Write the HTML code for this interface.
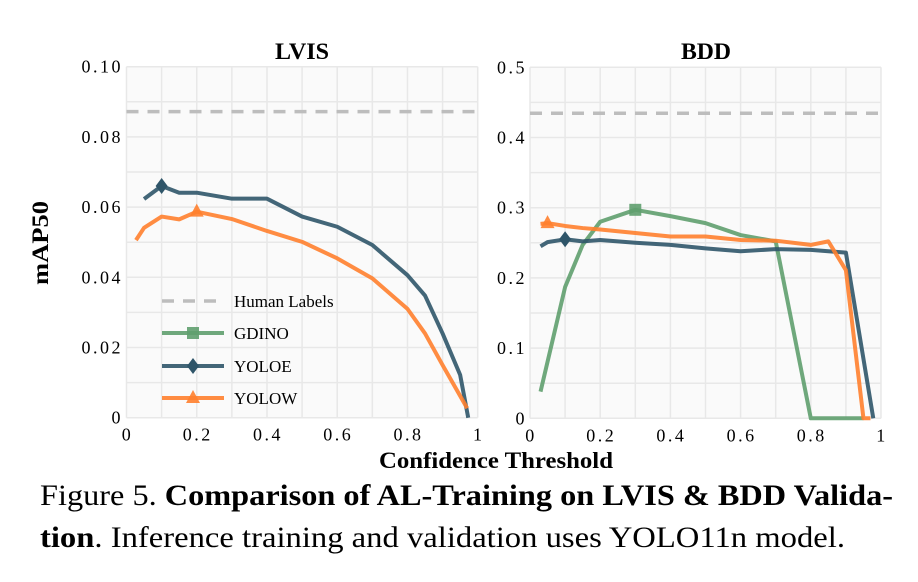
<!DOCTYPE html>
<html><head><meta charset="utf-8"><style>
body{margin:0;background:#fff;}
svg{display:block;font-family:"Liberation Serif",serif;}
</style></head><body>
<svg width="918" height="582" viewBox="0 0 918 582">
<g id="left"></g>
<g id="right"></g>
<text x="302" y="59" text-anchor="middle" font-size="23" font-weight="bold" textLength="54" lengthAdjust="spacingAndGlyphs">LVIS</text>
<text x="706" y="59" text-anchor="middle" font-size="23" font-weight="bold" textLength="50" lengthAdjust="spacingAndGlyphs">BDD</text>
<text transform="translate(48,243) rotate(-90)" text-anchor="middle" font-size="23" font-weight="bold" textLength="84" lengthAdjust="spacingAndGlyphs">mAP50</text>
<text x="379" y="468" font-size="23" font-weight="bold" textLength="234" lengthAdjust="spacingAndGlyphs">Confidence Threshold</text>
<text x="40" y="505" font-size="30" textLength="853" lengthAdjust="spacingAndGlyphs">Figure 5. <tspan font-weight="bold">Comparison of AL-Training on LVIS &amp; BDD Valida-</tspan></text>
<text x="40" y="547" font-size="30" textLength="805" lengthAdjust="spacingAndGlyphs"><tspan font-weight="bold">tion</tspan>. Inference training and validation uses YOLO11n model.</text>
<g id="legend"></g>
</svg>
<script>
const NS="http://www.w3.org/2000/svg";
const GREEN="#5f9e6e",DARK="#2f5569",ORANGE="#ff7f2e";
// LVIS data
const lvisHuman=0.0872;
const lvisYoloeX=[0.05,0.1,0.15,0.2,0.3,0.4,0.5,0.6,0.7,0.8,0.85,0.9,0.95,0.973];
const lvisYoloeY=[0.0623,0.066,0.0641,0.0641,0.0624,0.0624,0.0573,0.0544,0.0492,0.0406,0.0348,0.024,0.0122,0];
const lvisYolowX=[0.027,0.05,0.1,0.15,0.2,0.3,0.4,0.5,0.6,0.7,0.8,0.85,0.9,0.97];
const lvisYolowY=[0.0506,0.0541,0.0573,0.0565,0.0587,0.0566,0.0532,0.0501,0.0454,0.0397,0.031,0.024,0.015,0.0027];
const lvisYTicks=["0","0.02","0.04","0.06","0.08","0.10"];
// BDD data
const bddHuman=0.4345;
const bddGdinoX=[0.03,0.1,0.15,0.2,0.3,0.4,0.5,0.6,0.7,0.8,0.9,0.95];
const bddGdinoY=[0.038,0.187,0.247,0.28,0.297,0.288,0.278,0.261,0.252,0,0,0];
const bddYoloeX=[0.03,0.05,0.1,0.15,0.2,0.3,0.4,0.5,0.6,0.7,0.8,0.9,0.978];
const bddYoloeY=[0.245,0.251,0.255,0.252,0.254,0.25,0.247,0.242,0.238,0.241,0.24,0.236,0];
const bddYolowX=[0.03,0.05,0.1,0.15,0.2,0.3,0.4,0.5,0.6,0.7,0.8,0.85,0.9,0.95,0.97];
const bddYolowY=[0.277,0.278,0.274,0.271,0.269,0.264,0.259,0.259,0.254,0.253,0.247,0.252,0.211,0,0];
const bddYTicks=["0","0.1","0.2","0.3","0.4","0.5"];
const xTicks=["0","0.2","0.4","0.6","0.8","1"];

function el(t,a,p){const e=document.createElementNS(NS,t);for(const k in a)e.setAttribute(k,a[k]);p.appendChild(e);return e;}
function marker(g,type,cx,cy,color){
  let m;
  if(type==="square")m=el("rect",{x:cx-6,y:cy-6,width:12,height:12,fill:color,opacity:0.9},g);
  else if(type==="diamond")m=el("polygon",{points:`${cx},${cy-8} ${cx+6},${cy} ${cx},${cy+8} ${cx-6},${cy}`,fill:color},g);
  else m=el("polygon",{points:`${cx},${cy-8} ${cx+7},${cy+5} ${cx-7},${cy+5}`,fill:color,opacity:0.9},g);
  
  
}
function panel(g,x0,x1,y0,y1,ymax,yTicks,human,series,tickRight){
  const sx=v=>x0+v*(x1-x0), sy=v=>y0-(v/ymax)*(y0-y1);
  const bg=el("rect",{x:x0,y:y1,width:x1-x0,height:y0-y1,fill:"#fafafa"},g);
  
  
  for(let i=0;i<=10;i++){const x=sx(i/10);el("line",{x1:x,x2:x,y1:y1,y2:y0,stroke:"#e8e8e8","stroke-width":1.5},g);}
  for(let i=0;i<=10;i++){const y=sy(ymax*i/10);el("line",{x1:x0,x2:x1,y1:y,y2:y,stroke:"#e8e8e8","stroke-width":1.5},g);}
  yTicks.forEach((t,i)=>{const tx=el("text",{x:tickRight,y:sy(ymax*i/(yTicks.length-1))+6,"text-anchor":"end","font-size":18,"letter-spacing":"2.5"},g);tx.textContent=t;
    
    });
  xTicks.forEach((t,i)=>{const tx=el("text",{x:sx(i*0.2)+1,y:y0+23,"text-anchor":"middle","font-size":18,"letter-spacing":"2.5"},g);tx.textContent=t;
    
    });
  const h=el("line",{x1:x0,x2:x1,y1:sy(human),y2:sy(human),stroke:"#bdbdbd","stroke-width":3.5,"stroke-dasharray":"12 9"},g);
  
  
  series.forEach(s=>{
    const p=el("polyline",{points:s.x.map((v,i)=>sx(v)+","+sy(s.y[i])).join(" "),fill:"none",stroke:s.c,"stroke-width":4,"stroke-opacity":0.9,"stroke-linejoin":"round"},g);
    
    
    marker(g,s.m,sx(s.x[s.mi]),sy(s.y[s.mi]),s.c);
  });
}
panel(document.getElementById("left"),126.5,477.7,417.7,66.7,0.1,lvisYTicks,lvisHuman,[
 {n:"yoloe",x:lvisYoloeX,y:lvisYoloeY,c:DARK,m:"diamond",mi:1},
 {n:"yolow",x:lvisYolowX,y:lvisYolowY,c:ORANGE,m:"triangle",mi:4}],123);
panel(document.getElementById("right"),530,881,418.3,67.3,0.5,bddYTicks,bddHuman,[
 {n:"gdino",x:bddGdinoX,y:bddGdinoY,c:GREEN,m:"square",mi:4},
 {n:"yoloe",x:bddYoloeX,y:bddYoloeY,c:DARK,m:"diamond",mi:2},
 {n:"yolow",x:bddYolowX,y:bddYolowY,c:ORANGE,m:"triangle",mi:1}],527);
// legend
const lg=document.getElementById("legend");
const entries=[["Human Labels","#bdbdbd",null,301],["GDINO",GREEN,"square",333],["YOLOE",DARK,"diamond",366],["YOLOW",ORANGE,"triangle",398]];
entries.forEach(e=>{
  const g=el("g",{},lg);
  
  
  if(!e[2])el("line",{x1:162,x2:224,y1:e[3],y2:e[3],stroke:e[1],"stroke-width":3.5,"stroke-dasharray":"12 9"},g);
  else{el("line",{x1:162,x2:224,y1:e[3],y2:e[3],stroke:e[1],"stroke-width":4,"stroke-opacity":0.9},g);marker(g,e[2],193,e[3],e[1]);}
  const t=el("text",{x:234,y:e[3]+6,"font-size":17},g);t.textContent=e[0];
});
</script>
</body></html>
